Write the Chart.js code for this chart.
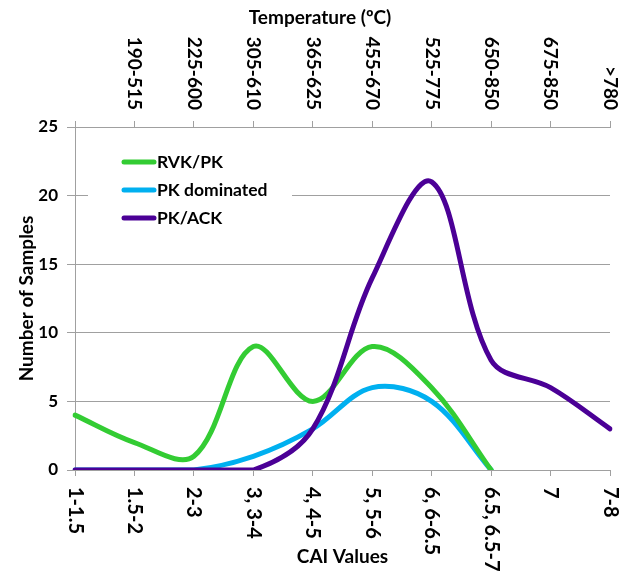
<!DOCTYPE html>
<html><head><meta charset="utf-8">
<script src="https://cdn.jsdelivr.net/npm/chart.js@4/dist/chart.umd.min.js"></script>
<style>html,body{margin:0;padding:0;background:#fff}</style>
</head><body>
<canvas id="c" width="624" height="575"></canvas>
<script>
// ---- data ----
const caiLabels = ['1-1.5','1.5-2','2-3','3, 3-4','4, 4-5','5, 5-6','6, 6-6.5','6.5, 6.5-7','7','7-8'];
const tempLabels = ['','190-515','225-600','305-610','365-625','455-670','525-775','650-850','675-850','>780'];
const seriesNames = ['RVK/PK','PK dominated','PK/ACK'];
const rvkPk = [4,2,1,9,5,9,6,0,null,null];
const pkDominated = [0,0,0,1,3,6,5,0,null,null];
const pkAck = [0,0,0,0,3,14,21,8,6,3];
const yMin = 0, yMax = 25, yStep = 5;
const xTitle = 'CAI Values';
const x2Title = 'Temperature (ºC)';
const yTitle = 'Number of Samples';

// ---- styles ----
const colors = ['#33cc33','#00b0f0','#4b0096'];
const FONT = 'Lato';
const GRID = '#a0a0a0';

const rotLabels = {
  id: 'rotLabels',
  afterDraw(chart) {
    const ctx = chart.ctx;
    const xs = chart.scales.x, x2 = chart.scales.x2;
    ctx.save();
    ctx.fillStyle = '#000';
    ctx.textBaseline = 'middle';
    ctx.font = 'bold 20px ' + FONT;
    caiLabels.forEach((lab, i) => {
      const px = xs.getPixelForTick(i);
      ctx.save();
      ctx.translate(px, xs.top + 17);
      ctx.rotate(Math.PI / 2);
      ctx.textAlign = 'left';
      ctx.fillText(lab, 0, 0);
      ctx.restore();
    });
    ctx.font = 'bold 19px ' + FONT;
    tempLabels.forEach((lab, i) => {
      if (!lab) return;
      const px = x2.getPixelForTick(i);
      ctx.save();
      ctx.translate(px, x2.bottom - 17);
      ctx.rotate(Math.PI / 2);
      ctx.textAlign = 'right';
      ctx.fillText(lab, 0, 0);
      ctx.restore();
    });
    // top title
    ctx.font = 'bold 19px ' + FONT;
    ctx.textAlign = 'center';
    ctx.fillText(x2Title, 320, 18);
    ctx.restore();
  }
};

const boxLegend = {
  id: 'boxLegend',
  beforeDatasetsDraw(chart) {
    const ctx = chart.ctx;
    ctx.save();
    ctx.fillStyle = '#fff';
    ctx.fillRect(88, 140, 204, 92);
    ctx.restore();
  },
  afterDatasetsDraw(chart) {
    const ctx = chart.ctx;
    ctx.save();
    ctx.font = 'bold 17.5px ' + FONT;
    ctx.textBaseline = 'middle';
    ctx.textAlign = 'left';
    chart.data.datasets.forEach((ds, i) => {
      const y = 162 + i * 28;
      ctx.strokeStyle = ds.borderColor;
      ctx.lineWidth = 5;
      ctx.lineCap = 'round';
      ctx.beginPath();
      ctx.moveTo(124, y);
      ctx.lineTo(154, y);
      ctx.stroke();
      ctx.fillStyle = '#000';
      ctx.fillText(ds.label, 157, y);
    });
    ctx.restore();
  }
};

const mk = (label, data, color, order) => ({
  label, data, borderColor: color, backgroundColor: color,
  borderWidth: 5, pointRadius: 0, pointHoverRadius: 0, tension: 0.35,
  borderCapStyle: 'round', borderJoinStyle: 'round', fill: false, order, spanGaps: false
});

new Chart(document.getElementById('c'), {
  type: 'line',
  data: {
    labels: caiLabels,
    datasets: [
      mk(seriesNames[0], rvkPk, colors[0], 1),
      mk(seriesNames[1], pkDominated, colors[1], 2),
      mk(seriesNames[2], pkAck, colors[2], 0)
    ]
  },
  options: {
    responsive: false,
    animation: false,
    devicePixelRatio: 1,
    layout: { padding: { left: 0, right: 14, top: 0, bottom: 0 } },
    plugins: { legend: { display: false }, tooltip: { enabled: false } },
    scales: {
      x: {
        type: 'category', position: 'bottom', offset: false,
        grid: { display: true, drawOnChartArea: false, drawTicks: true, tickLength: 6, color: GRID },
        border: { display: true, color: GRID },
        ticks: { display: false },
        title: { display: true, text: xTitle, color: '#000', font: { family: FONT, size: 19, weight: 'bold' }, padding: { top: 0, bottom: 7 } },
        afterFit(s) { s.height = 105; }
      },
      x2: {
        type: 'category', position: 'top', offset: false, labels: tempLabels,
        grid: { display: true, drawOnChartArea: false, drawTicks: true, tickLength: 6, color: GRID },
        border: { display: true, color: GRID },
        ticks: { display: false },
        afterFit(s) { s.height = 127; }
      },
      y: {
        min: yMin, max: yMax,
        ticks: { stepSize: yStep, color: '#000', padding: 9, font: { family: FONT, size: 17, weight: 'bold' } },
        grid: { color: GRID, tickLength: 8, drawTicks: true },
        border: { display: true, color: GRID },
        title: { display: true, text: yTitle, color: '#000', font: { family: FONT, size: 19, weight: 'bold' }, padding: { top: 15, bottom: 0 } },
        afterFit(s) { s.width = 75; }
      }
    }
  },
  plugins: [boxLegend, rotLabels]
});
</script>
</body></html>
